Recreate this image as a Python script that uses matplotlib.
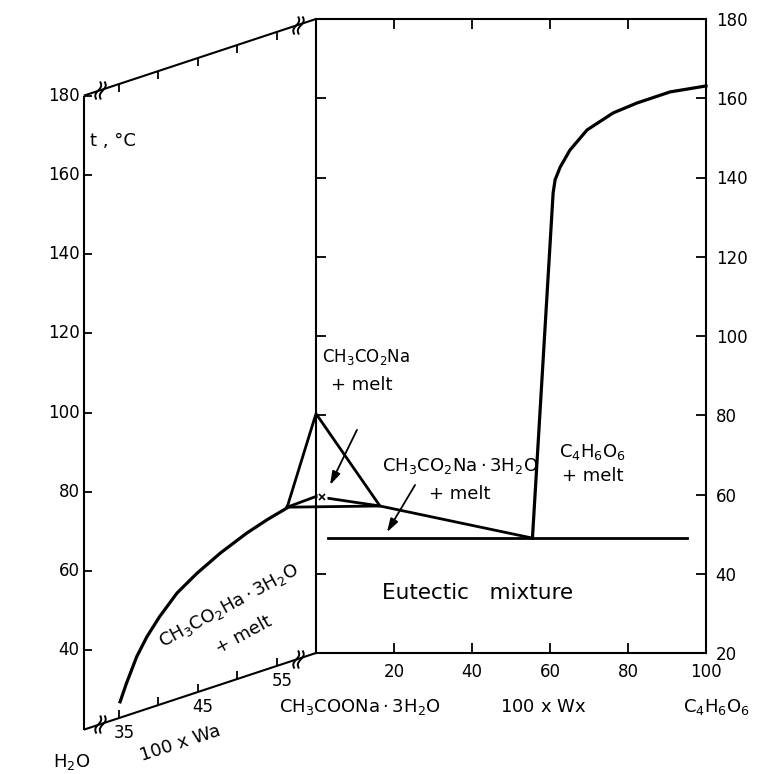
import numpy as np
import matplotlib.pyplot as plt
from matplotlib.transforms import Affine2D
from matplotlib.path import Path

plt.rcParams['font.family'] = ['DejaVu Sans']
plt.rcParams['mathtext.fontset'] = 'dejavusans'

# ---------- data: right panel (100 x Wx, t in degC) ----------
wx_ticks = [20, 40, 60, 80, 100]
t_ticks = [20, 40, 60, 80, 100, 120, 140, 160, 180]

eut_t = 49.0
eut_wx = [3.0, 95.0]

# trihydrate liquidus, starting at the left corner of the triangle
liq_wx = [-7.4, 0.0, 16.4, 55.5]
liq_t = [56.8, 59.5, 57.1, 49.0]
cross_wx, cross_t = 1.5, 59.4

# CH3CO2Na triangle
tri_wx = [-7.4, 0.0, 16.4, -7.4]
tri_t = [56.8, 80.4, 57.1, 56.8]

# tartaric acid liquidus
tar_wx = [55.5, 60.8, 61.3, 62.6, 65.1, 69.5, 76.2, 82.3, 90.8, 100.0]
tar_t = [49.0, 136.1, 139.4, 142.6, 146.9, 152.0, 156.3, 158.8, 161.6, 163.1]

# ---------- data: left panel (100 x Wa, t in degC) ----------
wa_ticks = [35, 40, 45, 50, 55]
wa_labels = [35, 45, 55]
left_t_ticks = [40, 60, 80, 100, 120, 140, 160, 180]
wa_curve = [35.2, 36.0, 37.3, 38.6, 40.2, 42.4, 44.9, 47.9, 51.2, 53.8, 56.3]
t_curve = [24.0, 28.1, 34.0, 38.2, 42.2, 46.7, 50.0, 53.2, 56.0, 57.7, 59.0]

W_AX = 30.6      # where the (broken) H2O axis is drawn
W_END = 60.0     # CH3COONa.3H2O corner
breaks_wa = [32.6, 57.7]

fig = plt.figure(figsize=(7.59, 7.74), dpi=100)
ax = fig.add_axes([316 / 759, 1 - 653 / 774, 390 / 759, 634 / 774])
ax.set_xlim(0, 100)
ax.set_ylim(20, 180)

for sp in ax.spines.values():
    sp.set_linewidth(1.5)
ax.set_xticks(wx_ticks)
ax.set_yticks(t_ticks)
ax.tick_params(axis='x', direction='in', top=True, length=7, width=1.3,
               pad=7, labelsize=12)
ax.tick_params(axis='y', direction='in', left=True, right=True,
               labelleft=False, labelright=True, length=7, width=1.3,
               pad=7, labelsize=12)

# oblique projection for the left panel: (Wa, t) -> right panel data coords
k = 7.9 / 3.9
s = 0.325
tl = Affine2D.from_values(k, s * k, 0, 1, -W_END * k, -W_END * s * k) + ax.transData

LW = dict(color='black', lw=1.5, clip_on=False, solid_capstyle='butt')
ax.plot([W_AX, W_AX], [20, 180], transform=tl, **LW)
ax.plot([W_AX, W_END], [20, 20], transform=tl, **LW)
ax.plot([W_AX, W_END], [180, 180], transform=tl, **LW)
ax.plot(wa_ticks, [20] * len(wa_ticks), ls='none', marker=2, ms=6, mew=1.3,
        color='black', transform=tl, clip_on=False)
ax.plot(wa_ticks, [180] * len(wa_ticks), ls='none', marker=3, ms=6, mew=1.3,
        color='black', transform=tl, clip_on=False)
ax.plot([W_AX] * len(left_t_ticks), left_t_ticks, ls='none', marker=1, ms=6,
        mew=1.3, color='black', transform=tl, clip_on=False)

for t in left_t_ticks:
    ax.annotate(str(t), (W_AX, t), xycoords=tl, xytext=(-3, 0),
                textcoords='offset points', ha='right', va='center', fontsize=12)
for w in wa_labels:
    ax.annotate(str(w), (w, 20), xycoords=tl, xytext=(4, -11),
                textcoords='offset points', ha='center', va='center', fontsize=12)

# break marks: two integral-like strokes
yy = np.linspace(-1, 1, 25)
xx = 0.2 * yy + 0.22 * np.sin(np.pi * yy)
verts = np.concatenate([np.c_[xx - 0.25, yy], np.c_[xx + 0.25, yy]])
codes = ([Path.MOVETO] + [Path.LINETO] * 24) * 2
brk = Path(verts, codes)
for tb in [20, 180]:
    ax.plot(breaks_wa, [tb, tb], ls='none', marker=brk, ms=13, mew=1.4,
            mfc='none', mec='black', transform=tl, clip_on=False)

# left panel curve
ax.plot(wa_curve, t_curve, color='black', lw=2.3, transform=tl, clip_on=False,
        solid_joinstyle='round')

# right panel lines
ax.plot(tri_wx, tri_t, color='black', lw=2.0, clip_on=False,
        solid_joinstyle='miter')
ax.plot(liq_wx, liq_t, color='black', lw=2.0, clip_on=False)
ax.plot(cross_wx, cross_t, marker='s', ms=7, mfc='white', mec='none', zorder=3)
ax.plot(cross_wx, cross_t, marker='x', ms=5, mew=1.2, color='black', zorder=4)
ax.plot(eut_wx, [eut_t, eut_t], color='black', lw=2.0)
ax.plot(tar_wx, tar_t, color='black', lw=2.3, clip_on=False,
        solid_joinstyle='round')

arrow = dict(arrowstyle='-|>,head_length=0.8,head_width=0.25', color='black',
             lw=1.3, shrinkA=0, shrinkB=0)
ax.annotate('', xy=(3.6, 62.4), xytext=(10.5, 76.3), arrowprops=arrow)
ax.annotate('', xy=(18.2, 50.5), xytext=(25.4, 62.4), arrowprops=arrow)

FS = 13
ax.text(12.8, 94.7, r'$\mathrm{CH_3CO_2Na}$', ha='center', va='center', fontsize=12)
ax.text(11.8, 87.7, '+ melt', ha='center', va='center', fontsize=FS)
ax.text(36.9, 67.2, r'$\mathrm{CH_3CO_2Na\cdot 3H_2O}$', ha='center', va='center',
        fontsize=FS)
ax.text(36.9, 60.1, '+ melt', ha='center', va='center', fontsize=FS)
ax.text(70.8, 70.7, r'$\mathrm{C_4H_6O_6}$', ha='center', va='center', fontsize=FS)
ax.text(71.0, 64.7, '+ melt', ha='center', va='center', fontsize=FS)
ax.text(41.5, 35.1, 'Eutectic   mixture', ha='center', va='center', fontsize=15.5)

ax.text(11.3, 6.4, r'$\mathrm{CH_3COONa\cdot 3H_2O}$', ha='center', va='center',
        fontsize=FS)
ax.text(58.2, 6.4, r'100 x W$\mathrm{x}$', ha='center', va='center', fontsize=FS)
ax.text(102.8, 6.4, r'$\mathrm{C_4H_6O_6}$', ha='center', va='center', fontsize=FS)

ax.text(49.0, 39.1, r'$\mathrm{CH_3CO_2Ha\cdot 3H_2O}$', transform=tl,
        rotation=28.5, ha='center', va='center', rotation_mode='anchor',
        fontsize=FS)
ax.text(50.9, 30.5, '+ melt', transform=tl, rotation=28.5, ha='center',
        va='center', rotation_mode='anchor', fontsize=FS)
ax.text(42.8, 8.6, '100 x Wa', transform=tl, rotation=18, ha='center',
        va='center', rotation_mode='anchor', fontsize=FS)
ax.text(29.1, 12.8, r'$\mathrm{H_2O}$', transform=tl, ha='center', va='center',
        fontsize=FS)
ax.text(34.3, 166.2, 't , °C', transform=tl, ha='center', va='center', fontsize=FS)

fig.savefig('out.png', dpi=100)
